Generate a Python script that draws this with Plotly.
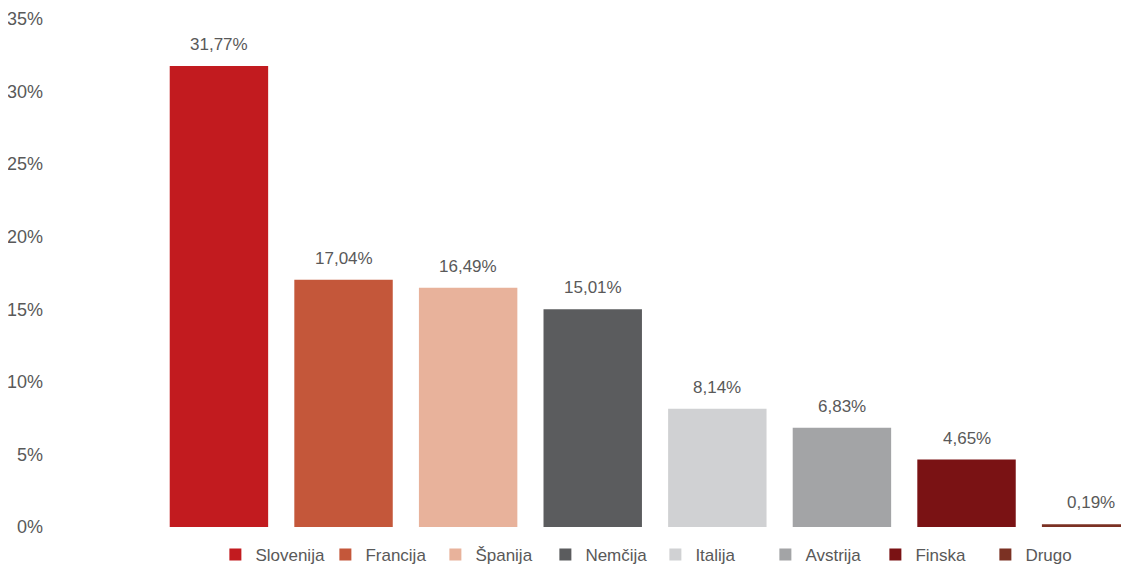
import plotly.graph_objects as go

countries = ["Slovenija", "Francija", "Španija", "Nemčija", "Italija", "Avstrija", "Finska", "Drugo"]
shares = [31.77, 17.04, 16.49, 15.01, 8.14, 6.83, 4.65, 0.19]
colors = ["#C21B1F", "#C4573A", "#E8B29B", "#5B5C5E", "#D0D1D3", "#A3A4A6", "#7A1214", "#7B3123"]
y_ticks = [0, 5, 10, 15, 20, 25, 30, 35]

FONT = "Liberation Sans Narrow, Arial Narrow, Liberation Sans, Arial, sans-serif"
GREY = "#595959"

fig = go.Figure()
for name, value, color in zip(countries, shares, colors):
    fig.add_trace(
        go.Bar(
            x=[name],
            y=[value],
            name=name,
            marker={"color": color, "line": {"width": 0}},
            width=0.79,
            hoverinfo="skip",
        )
    )
    fig.add_annotation(
        x=name,
        y=value,
        text=f"{value:.2f}".replace(".", ",") + "%",
        showarrow=False,
        yanchor="bottom",
        yshift=10,
        font={"family": FONT, "size": 17, "color": GREY},
    )

# the page body adds an 8px margin, so the figure is 8px smaller than the window
fig.update_layout(
    width=1121,
    height=562,
    barmode="relative",
    plot_bgcolor="white",
    paper_bgcolor="white",
    margin={"l": 36, "r": 0, "t": 11, "b": 43},
    font={"family": FONT, "size": 17, "color": GREY},
    showlegend=True,
    legend={
        "orientation": "h",
        "xref": "container",
        "yref": "container",
        "x": 0.5775,
        "xanchor": "center",
        "y": 0.027,
        "yanchor": "middle",
        "font": {"family": FONT, "size": 17, "color": GREY},
        "itemwidth": 30,
        "entrywidth": 65,
    },
)
fig.update_xaxes(
    range=[-1.404, 7.304],
    showticklabels=False,
    showgrid=False,
    zeroline=False,
    showline=False,
    ticks="",
)
fig.update_yaxes(
    range=[0, 35],
    tickvals=y_ticks,
    ticktext=[f"{v}%" for v in y_ticks],
    showgrid=False,
    zeroline=False,
    showline=False,
    ticks="",
    tickfont={"family": FONT, "size": 18, "color": GREY},
)

fig.write_html("out.html")
